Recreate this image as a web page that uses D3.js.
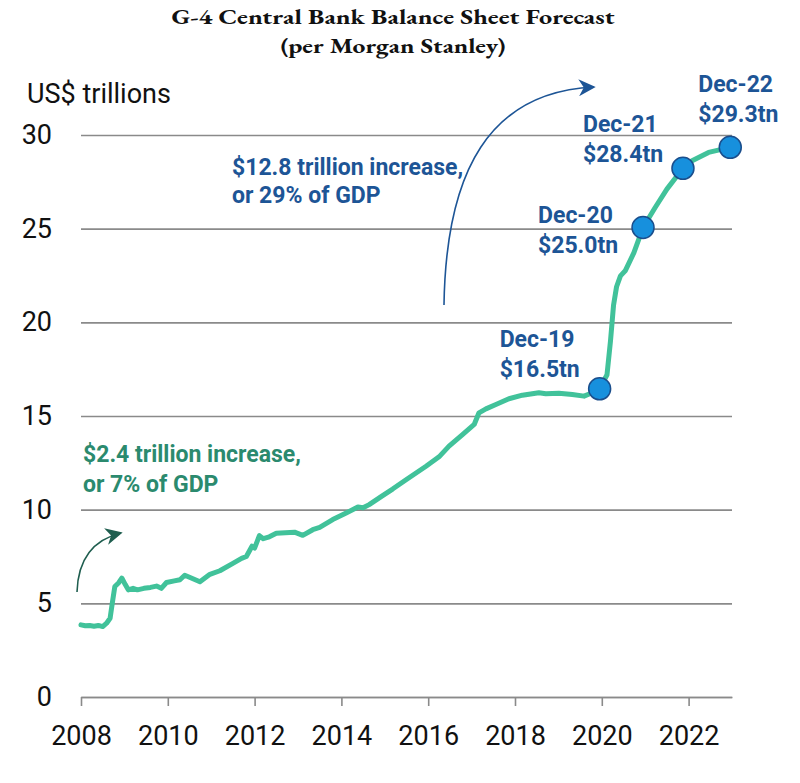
<!DOCTYPE html>
<html>
<head>
<meta charset="utf-8">
<title>G-4 Central Bank Balance Sheet Forecast</title>
<script src="https://cdn.jsdelivr.net/npm/d3@7"></script>
<style>
  body { margin: 0; background: #fff; }
  svg { display: block; }
  .tick text { font-family: Roboto, "Liberation Sans", sans-serif; fill: #111; }
</style>
</head>
<body>
<div id="chart"></div>
<script>
// balance sheet, decimal year vs US$ trillions
var years = [2008.00, 2008.10, 2008.20, 2008.30, 2008.40, 2008.50, 2008.59, 2008.67, 2008.72, 2008.78,
  2008.87, 2008.94, 2009.02, 2009.09, 2009.20, 2009.30, 2009.45, 2009.60, 2009.74, 2009.85,
  2009.97, 2010.15, 2010.28, 2010.39, 2010.54, 2010.74, 2010.97, 2011.20, 2011.50, 2011.70,
  2011.81, 2011.94, 2012.00, 2012.11, 2012.20, 2012.34, 2012.50, 2012.92, 2013.11, 2013.34,
  2013.50, 2013.80, 2014.11, 2014.38, 2014.50, 2014.64, 2014.95, 2015.18, 2015.49, 2015.95,
  2016.25, 2016.48, 2016.79, 2017.06, 2017.17, 2017.33, 2017.56, 2017.86, 2018.17, 2018.55,
  2018.71, 2019.01, 2019.32, 2019.59, 2019.74, 2019.95, 2020.12, 2020.20, 2020.27, 2020.34,
  2020.43, 2020.54, 2020.74, 2020.95, 2021.23, 2021.50, 2021.87, 2022.08, 2022.46, 2022.96];
var balance = [3.85, 3.80, 3.82, 3.78, 3.82, 3.76, 3.94, 4.20, 5.00, 5.90,
  6.10, 6.35, 6.00, 5.72, 5.80, 5.72, 5.80, 5.85, 5.92, 5.80,
  6.11, 6.20, 6.26, 6.50, 6.35, 6.15, 6.55, 6.74, 7.13, 7.40,
  7.50, 8.05, 7.95, 8.61, 8.45, 8.55, 8.74, 8.80, 8.63, 8.93,
  9.05, 9.47, 9.82, 10.14, 10.10, 10.27, 10.75, 11.10, 11.60, 12.32,
  12.82, 13.39, 14.01, 14.55, 15.17, 15.38, 15.61, 15.92, 16.11, 16.24,
  16.19, 16.22, 16.15, 16.06, 16.20, 16.45, 17.20, 19.00, 20.90, 21.90,
  22.48, 22.75, 23.72, 25.06, 26.13, 27.11, 28.22, 28.63, 29.07, 29.34];

// highlighted year-end points
var markerYears = [2019.95, 2020.95, 2021.87, 2022.96];
var markerValues = [16.45, 25.06, 28.22, 29.34];
var markerMonths = ["Dec-19", "Dec-20", "Dec-21", "Dec-22"];
var markerAmounts = ["$16.5tn", "$25.0tn", "$28.4tn", "$29.3tn"];

var xTicks = [2008, 2010, 2012, 2014, 2016, 2018, 2020, 2022];
var yTicks = [0, 5, 10, 15, 20, 25, 30];

var W = 800, H = 783;
var margins = {top: 135, right: 68, bottom: 86, left: 81};

var lineColor = "#41c29a",
    dotFill = "#1790dd",
    dotStroke = "#1b4e8c",
    blueText = "#1d5596",
    greenText = "#2b8a6e",
    greenArrow = "#1f5e4f";

var svg = d3.select("#chart").append("svg")
  .attr("width", W)
  .attr("height", H);

var x = d3.scaleLinear()
  .domain([2008, 2023])
  .range([margins.left, W - margins.right]);
var y = d3.scaleLinear()
  .domain([0, 30])
  .range([H - margins.bottom, margins.top]);

// title
var title = svg.append("g")
  .attr("font-family", "'EB Garamond', Garamond, 'Liberation Serif', serif")
  .attr("font-weight", "bold")
  .attr("text-anchor", "middle")
  .attr("fill", "#111");
title.append("text")
  .attr("x", 393).attr("y", 24)
  .attr("font-size", 21)
  .attr("textLength", 443).attr("lengthAdjust", "spacingAndGlyphs")
  .text("G-4 Central Bank Balance Sheet Forecast");
title.append("text")
  .attr("x", 393).attr("y", 53)
  .attr("font-size", 21)
  .attr("textLength", 225).attr("lengthAdjust", "spacingAndGlyphs")
  .text("(per Morgan Stanley)");

svg.append("text")
  .attr("x", 27).attr("y", 103)
  .attr("font-family", "Roboto, sans-serif")
  .attr("font-size", 27)
  .attr("fill", "#111")
  .text("US$ trillions");

// gridlines + y labels
var yAxis = svg.append("g")
  .attr("transform", "translate(" + margins.left + ",0)")
  .call(d3.axisLeft(y)
    .tickValues(yTicks)
    .tickSize(-(W - margins.left - margins.right))
    .tickPadding(29));
yAxis.select(".domain").remove();
yAxis.selectAll(".tick line").attr("stroke", "#8a8a8a").attr("stroke-width", 1.6);
yAxis.selectAll(".tick text").attr("font-size", 27);

// x axis
var xAxis = svg.append("g")
  .attr("transform", "translate(0," + y(0) + ")")
  .call(d3.axisBottom(x)
    .tickValues(xTicks)
    .tickFormat(d3.format("d"))
    .tickSize(9)
    .tickSizeOuter(0)
    .tickPadding(20));
xAxis.select(".domain").attr("stroke", "#8a8a8a").attr("stroke-width", 1.6);
xAxis.selectAll(".tick line").attr("stroke", "#8a8a8a").attr("stroke-width", 1.6);
xAxis.selectAll(".tick text").attr("font-size", 27);

// the balance sheet line
var line = d3.line()
  .x(function(d) { return x(d[0]); })
  .y(function(d) { return y(d[1]); });

svg.append("path")
  .datum(d3.zip(years, balance))
  .attr("fill", "none")
  .attr("stroke", lineColor)
  .attr("stroke-width", 5)
  .attr("stroke-linejoin", "round")
  .attr("stroke-linecap", "round")
  .attr("d", line);

svg.selectAll("circle.marker")
  .data(d3.zip(markerYears, markerValues))
  .enter().append("circle")
  .attr("class", "marker")
  .attr("cx", function(d) { return x(d[0]); })
  .attr("cy", function(d) { return y(d[1]); })
  .attr("r", 11)
  .attr("fill", dotFill)
  .attr("stroke", dotStroke)
  .attr("stroke-width", 1.5);

// label offsets from each marker (dx, dy of first line)
var labelOffsets = [[-100, -42], [-105, -5], [-100, -36], [-32, -55]];
var labels = svg.append("g")
  .attr("font-family", "Roboto, sans-serif")
  .attr("font-weight", "bold")
  .attr("font-size", 23)
  .attr("fill", blueText);
markerYears.forEach(function(yr, i) {
  var lx = x(yr) + labelOffsets[i][0],
      ly = y(markerValues[i]) + labelOffsets[i][1];
  labels.append("text").attr("x", lx).attr("y", ly).text(markerMonths[i]);
  labels.append("text").attr("x", lx).attr("y", ly + 30).text(markerAmounts[i]);
});

// arrow heads
var defs = svg.append("defs");
[["arrowBlue", blueText], ["arrowGreen", greenArrow]].forEach(function(a) {
  defs.append("marker")
    .attr("id", a[0])
    .attr("viewBox", "0 0 10 10")
    .attr("refX", 9).attr("refY", 5)
    .attr("markerUnits", "userSpaceOnUse")
    .attr("markerWidth", 20).attr("markerHeight", 17)
    .attr("orient", "auto")
    .append("path")
    .attr("d", "M0,0 L10,5 L0,10 L3,5 Z")
    .attr("fill", a[1]);
});

svg.append("path")
  .attr("d", "M444,305 C446,170 490,92 594,87")
  .attr("fill", "none")
  .attr("stroke", blueText)
  .attr("stroke-width", 1.6)
  .attr("marker-end", "url(#arrowBlue)");

svg.append("path")
  .attr("d", "M77,592 C78,560 92,540 121,533")
  .attr("fill", "none")
  .attr("stroke", greenArrow)
  .attr("stroke-width", 1.6)
  .attr("marker-end", "url(#arrowGreen)");

// annotations
var blueNote = svg.append("g")
  .attr("font-family", "Roboto, sans-serif")
  .attr("font-weight", "bold")
  .attr("font-size", 23)
  .attr("fill", blueText);
blueNote.append("text").attr("x", 232).attr("y", 175).text("$12.8 trillion increase,");
blueNote.append("text").attr("x", 232).attr("y", 203).text("or 29% of GDP");

var greenNote = svg.append("g")
  .attr("font-family", "Roboto, sans-serif")
  .attr("font-weight", "bold")
  .attr("font-size", 23)
  .attr("fill", greenText);
greenNote.append("text").attr("x", 83).attr("y", 462).text("$2.4 trillion increase,");
greenNote.append("text").attr("x", 83).attr("y", 492).text("or 7% of GDP");
</script>
</body>
</html>
